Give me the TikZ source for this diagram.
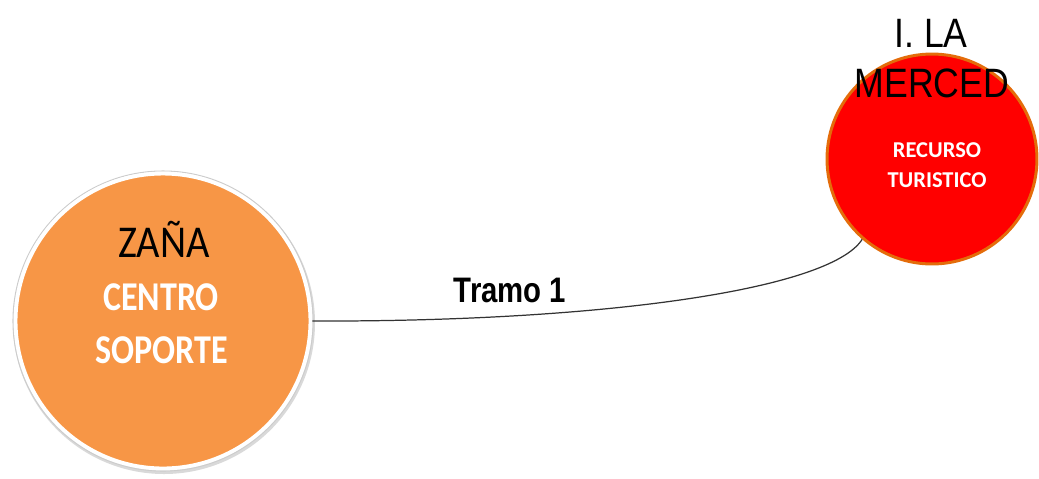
\documentclass[tikz,border=0pt]{standalone}
\usepackage{fontspec}
\newfontfamily\calibri{Carlito}
\newfontfamily\arial{Liberation Sans}
\definecolor{naranja}{RGB}{247,150,70}
\definecolor{borde}{RGB}{228,108,10}
\tikzset{
    centro/.style={circle, fill=naranja, draw=white, line width=2.2pt, minimum size=5.9cm, inner sep=0pt},
    recurso/.style={circle, fill=red, draw=borde, line width=1.7pt, minimum size=4.2cm, inner sep=0pt},
    titulo/.style={anchor=base, inner sep=0pt, yscale=1.15},
    etiqueta/.style={anchor=base, inner sep=0pt, text=white, yscale=1.2}
}
\begin{document}
\begin{tikzpicture}[x=0.02cm, y=-0.02cm]
    \useasboundingbox (0,0) rectangle (1039,478);

    % Sombra
    \fill[gray!30] (164,323) circle (151);
    \draw[gray!40, line width=0.6pt] (163,321) circle (150);

    % Nodos
    \node[centro] (zana) at (163,321) {};
    \node[recurso] (merced) at (932,159) {};

    % Textos
    \node[titulo, yscale=0.98] (nzana) at (164,257) {\calibri\fontsize{23}{27}\selectfont ZAÑA};
    \node[etiqueta] (centro) at (161,310) {\calibri\bfseries\fontsize{19.4}{23}\selectfont CENTRO};
    \node[etiqueta] (soporte) at (162,363) {\calibri\bfseries\fontsize{19.4}{23}\selectfont SOPORTE};
    \node[titulo] (isla) at (931,47) {\arial\fontsize{20.3}{24}\selectfont I. LA};
    \node[titulo] (nmerced) at (932,97) {\arial\fontsize{20.3}{24}\selectfont MERCED};
    \node[etiqueta, yscale=0.84] (recurso) at (937,157) {\calibri\bfseries\fontsize{12.8}{15}\selectfont RECURSO};
    \node[etiqueta, yscale=0.84] (turistico) at (937,187) {\calibri\bfseries\fontsize{12.8}{15}\selectfont TURISTICO};

    % Tramo
    \draw[black!80, line width=0.7pt] (zana.east) .. controls (600,322) and (830,290) .. (merced.229);
    \node[titulo, yscale=1.05] (tramo) at (510,302) {\arial\bfseries\fontsize{16.7}{20}\selectfont Tramo 1};
\end{tikzpicture}
\end{document}
